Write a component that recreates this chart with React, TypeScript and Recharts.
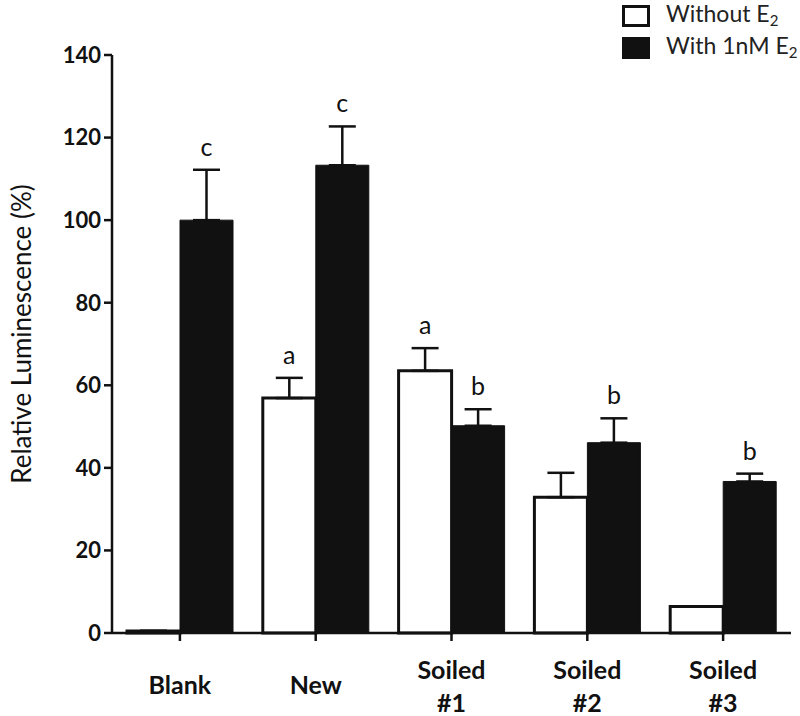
import React from "react";
import { BarChart, Bar, XAxis, YAxis, ErrorBar, LabelList, Legend } from "recharts";

const categories = ["Blank", "New", "Soiled\n#1", "Soiled\n#2", "Soiled\n#3"];
const withoutE2 = [0.5, 56.9, 63.5, 32.9, 6.4];
const withoutE2Err = [0, 4.9, 5.5, 5.9, 0];
const withoutE2Letters = ["", "a", "a", "", ""];
const withE2 = [100.0, 113.3, 50.2, 46.1, 36.7];
const withE2Err = [12.2, 9.4, 4.0, 5.9, 1.9];
const withE2Letters = ["c", "c", "b", "b", "b"];
const yTicks = [0, 20, 40, 60, 80, 100, 120, 140];

const data = categories.map((c, i) => ({
  name: c,
  without: withoutE2[i],
  withoutErr: [0, withoutE2Err[i]],
  withoutLetter: withoutE2Letters[i],
  with: withE2[i],
  withErr: [0, withE2Err[i]],
  withLetter: withE2Letters[i],
}));

const INK = "#111";
const FONT = "Lato, 'Open Sans', sans-serif";

const makeLetter = (values: number[], errs: number[]) => (props: any) => {
  const { x, y, width, height, index, value } = props;
  if (!value) return null;
  const v = values[index];
  const errPx = v ? (Number(height) * errs[index]) / v : 0;
  const cx = Number(x) + Number(width) / 2;
  const top = Number(y) - errPx;
  return (
    <text x={cx} y={top - 14} textAnchor="middle" fontFamily={FONT} fontSize={25} fill={INK}>
      {value}
    </text>
  );
};

const XTick = (props: any) => {
  const { x, y, payload } = props;
  const lines = String(payload.value).split("\n");
  if (lines.length === 1) {
    return (
      <text x={x} y={y + 51} textAnchor="middle" fontFamily={FONT} fontWeight={700} fontSize={25} fill={INK}>
        {lines[0]}
      </text>
    );
  }
  return (
    <text textAnchor="middle" fontFamily={FONT} fontWeight={700} fontSize={25} fill={INK}>
      <tspan x={x} y={y + 36}>{lines[0]}</tspan>
      <tspan x={x} y={y + 69}>{lines[1]}</tspan>
    </text>
  );
};

const YLabel = (props: any) => {
  const vb = props.viewBox || { x: 0, y: 55, width: 112, height: 578 };
  const cx = vb.x + 21;
  const cy = vb.y + vb.height / 2 - 10;
  return (
    <text
      x={cx}
      y={cy}
      transform={`rotate(-90, ${cx}, ${cy})`}
      textAnchor="middle"
      dominantBaseline="central"
      fontFamily={FONT}
      fontSize={26}
      fill={INK}
    >
      Relative Luminescence (%)
    </text>
  );
};

const LegendContent = () => {
  const row = (filled: boolean, label: string) => (
    <div style={{ display: "flex", alignItems: "center", height: 32 }}>
      <div
        style={{
          width: 28,
          height: 22,
          boxSizing: "border-box",
          border: `3px solid ${INK}`,
          background: filled ? INK : "#fff",
          marginRight: 16,
        }}
      />
      <span style={{ fontFamily: FONT, fontSize: 23, color: "#222", lineHeight: "32px" }}>
        {label}E<sub style={{ fontSize: 15, verticalAlign: "-4px" }}>2</sub>
      </span>
    </div>
  );
  return (
    <div>
      {row(false, "Without ")}
      {row(true, "With 1nM ")}
    </div>
  );
};

export default function App() {
  return (
    <div style={{ position: "absolute", left: 0, top: 0, width: 800, height: 716, background: "#fff" }}>
      <BarChart
        width={800}
        height={716}
        data={data}
        margin={{ top: 55, right: 9, bottom: 0, left: 0 }}
        barGap={0}
        barSize={53}
      >
        <XAxis
          dataKey="name"
          height={83}
          tick={<XTick />}
          tickSize={8}
          axisLine={{ stroke: INK, strokeWidth: 2.5 }}
          tickLine={{ stroke: INK, strokeWidth: 2.5 }}
          interval={0}
        />
        <YAxis
          width={112}
          domain={[0, 140]}
          ticks={yTicks}
          interval={0}
          tickSize={8}
          tickMargin={3}
          axisLine={{ stroke: INK, strokeWidth: 2.5 }}
          tickLine={{ stroke: INK, strokeWidth: 2.5 }}
          tick={{ fontFamily: FONT, fontWeight: 700, fontSize: 22, fill: INK }}
          label={YLabel}
        />
        <Legend
          layout="vertical"
          align="center"
          verticalAlign="middle"
          wrapperStyle={{ left: 622, top: 0, width: 178 }}
          content={<LegendContent />}
        />
        <Bar dataKey="without" fill="#fff" stroke={INK} strokeWidth={3} isAnimationActive={false}>
          <ErrorBar dataKey="withoutErr" direction="y" width={13.5} strokeWidth={2.5} stroke={INK} />
          <LabelList dataKey="withoutLetter" content={makeLetter(withoutE2, withoutE2Err)} />
        </Bar>
        <Bar dataKey="with" fill={INK} stroke={INK} strokeWidth={1} isAnimationActive={false}>
          <ErrorBar dataKey="withErr" direction="y" width={13.5} strokeWidth={2.5} stroke={INK} />
          <LabelList dataKey="withLetter" content={makeLetter(withE2, withE2Err)} />
        </Bar>
      </BarChart>
    </div>
  );
}
